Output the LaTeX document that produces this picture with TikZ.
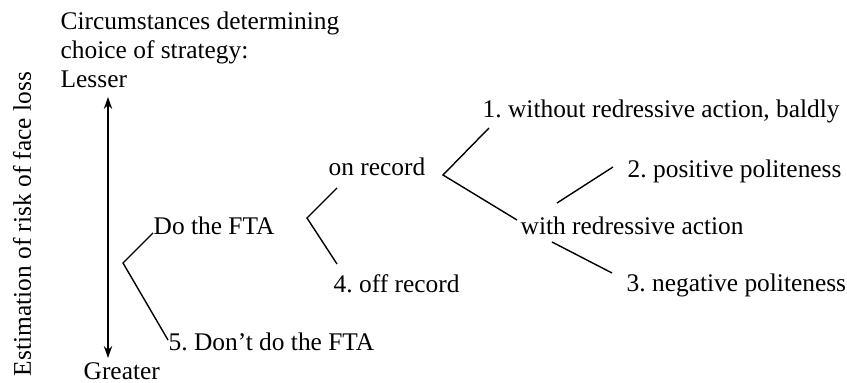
\documentclass[tikz,border=0pt]{standalone}
\usepackage{fontspec}
\setmainfont{Liberation Serif}
\usetikzlibrary{arrows.meta}

\begin{document}
\begin{tikzpicture}[x=0.5pt, y=-0.5pt, >={Stealth[length=6pt,width=4.2pt]}, line width=0.7pt,
    lbl/.style={anchor=base west, inner sep=0pt, font=\fontsize{12.7}{15}\selectfont}]
    \useasboundingbox (0,0) rectangle (847,383);

    % --- Heading and scale ---
    \node[lbl] (head1) at (60,30) {Circumstances determining};
    \node[lbl] (head2) at (60,59) {choice of strategy:};
    \node[lbl] (lesser) at (60,88) {Lesser};
    \node[lbl] (greater) at (83,380) {Greater};
    \node[lbl, anchor=base, rotate=90] (risk) at (31,224) {Estimation of risk of face loss};

    % --- Scale arrow ---
    \coordinate (top) at (108,97);
    \coordinate (bot) at (108,358);
    \draw[<->, line width=0.8pt] (top) -- (bot);

    % --- Strategy labels ---
    \node[lbl] (dofta) at (153,235) {Do the FTA};
    \node[lbl] (dont) at (168,351) {5.~Don’t do the FTA};
    \node[lbl] (onrec) at (328,176) {on record};
    \node[lbl] (offrec) at (333,293) {4.~off record};
    \node[lbl] (bald) at (482,118) {1.~without redressive action, baldly};
    \node[lbl] (redress) at (520,235) {with redressive action};
    \node[lbl] (pos) at (627,178) {2.~positive politeness};
    \node[lbl] (neg) at (626,292) {3.~negative politeness};

    % --- Branch points and ends ---
    \coordinate (v0) at (123,263);
    \coordinate (v0a) at (153,233);
    \coordinate (v0b) at (168,340);
    \coordinate (v1) at (307,218);
    \coordinate (v1a) at (337,188);
    \coordinate (v1b) at (337,264);
    \coordinate (v2) at (443,175);
    \coordinate (v2a) at (489,128);
    \coordinate (v2b) at (517,220);
    \coordinate (p2a) at (557,203);
    \coordinate (p2b) at (613,167);
    \coordinate (p3a) at (552,242);
    \coordinate (p3b) at (612,273);

    % --- Branches ---
    \draw (v0a) -- (v0) -- (v0b);
    \draw (v1a) -- (v1) -- (v1b);
    \draw (v2a) -- (v2) -- (v2b);
    \draw (p2a) -- (p2b);
    \draw (p3a) -- (p3b);
\end{tikzpicture}
\end{document}
